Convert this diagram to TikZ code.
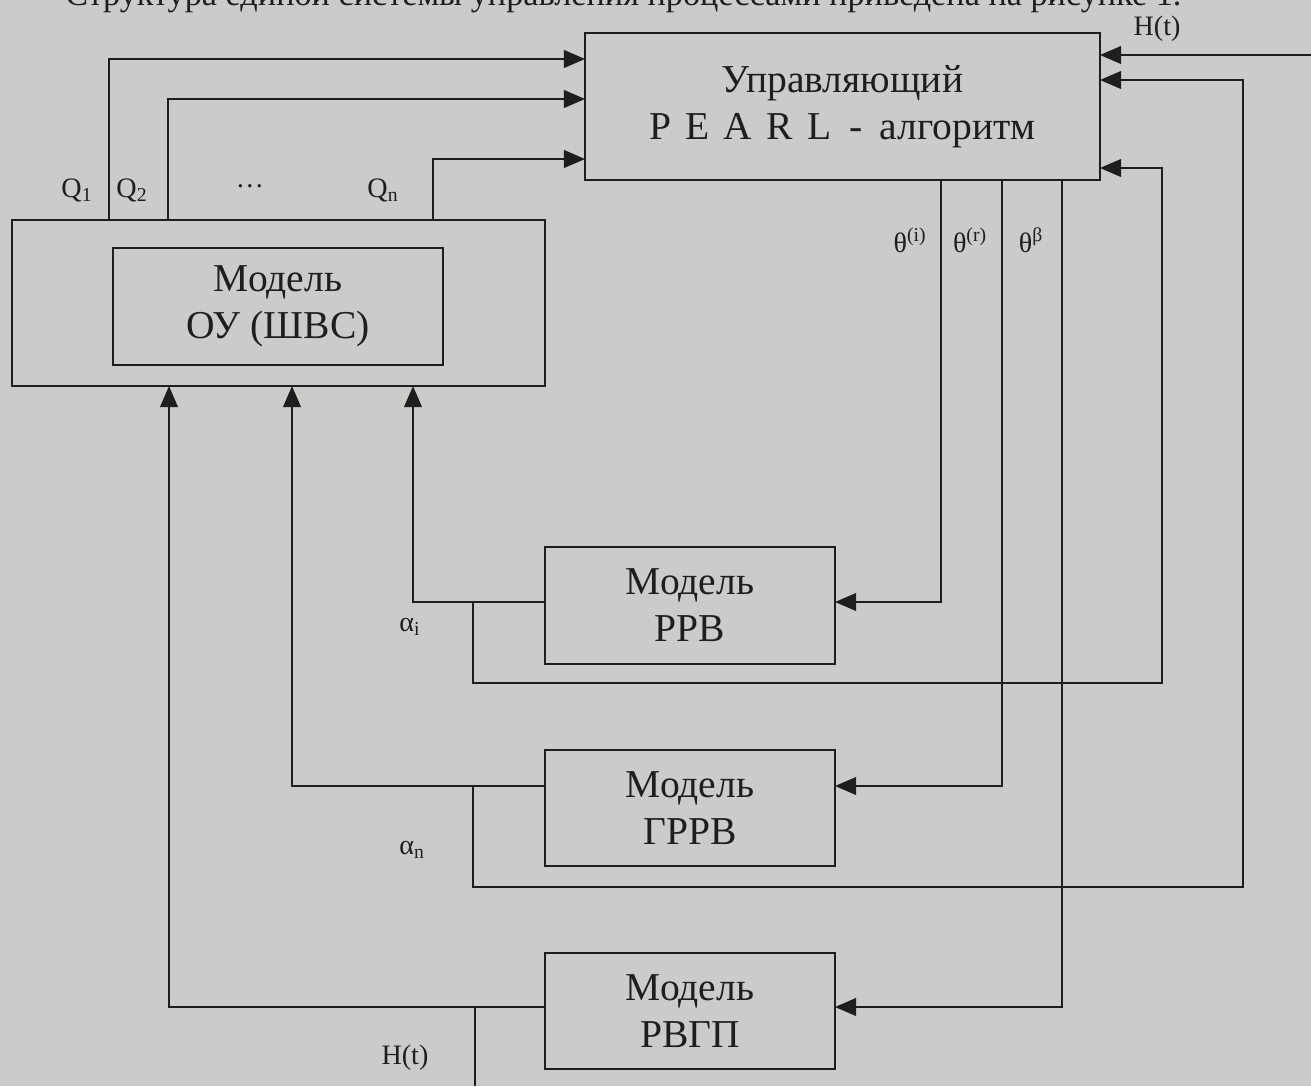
\documentclass[tikz,border=0pt]{standalone}
\usepackage{fontspec}
\setmainfont{Liberation Serif}
\usetikzlibrary{arrows.meta}
\definecolor{paper}{RGB}{203,203,201}
\definecolor{ink}{RGB}{30,30,30}
\begin{document}
\begin{tikzpicture}[x=0.02cm,y=-0.02cm,
  box/.style={draw=ink,line width=1.3pt,rectangle,inner sep=0pt,outer sep=0pt,align=center,
    font=\fontsize{22.5}{26.7}\selectfont,text=ink},
  wire/.style={draw=ink,line width=1.2pt},
  arr/.style={wire,-{Triangle[length=12pt,width=10pt]}},
  lbl/.style={text=ink,font=\fontsize{16}{18}\selectfont,inner sep=0pt}]
\path[use as bounding box,fill=paper] (0,0) rectangle (1311,1086);
\clip (0,0) rectangle (1311,1086);

% heading line (cut off at the top)
\node[anchor=base west,inner sep=0pt,text=ink,font=\fontsize{19.5}{20}\selectfont] (head) at (65,5)
  {Структура единой системы управления процессами приведена на рисунке 1.};

% boxes
\node[box,minimum width=10.3cm,minimum height=2.94cm] (pearl) at (842.5,106.5)
  {Управляющий\\P\hspace{.36em}E\hspace{.36em}A\hspace{.36em}R\hspace{.36em}L\hspace{.45em}-\hspace{.45em}алгоритм};
\node[box,minimum width=10.66cm,minimum height=3.32cm] (ou) at (278.5,303) {};
\node[box,minimum width=6.6cm,minimum height=2.34cm] (ouin) at (278,306.5) {Модель\\ОУ (ШВС)};
\node[box,minimum width=5.8cm,minimum height=2.34cm] (rrv) at (690,605.5) {Модель\\РРВ};
\node[box,minimum width=5.8cm,minimum height=2.32cm] (grrv) at (690,808) {Модель\\ГРРВ};
\node[box,minimum width=5.8cm,minimum height=2.32cm] (rvgp) at (690,1011) {Модель\\РВГП};

% helper coordinates
\coordinate (xQa) at (109,0);
\coordinate (xQb) at (168,0);
\coordinate (xQn) at (433,0);
\coordinate (yQa) at (0,59);
\coordinate (yQb) at (0,99);
\coordinate (yQn) at (0,159);
\coordinate (xTi) at (941,0);
\coordinate (xTr) at (1002,0);
\coordinate (xTb) at (1062,0);
\coordinate (yR) at (0,602);
\coordinate (yG) at (0,786);
\coordinate (yV) at (0,1007);
\coordinate (xA) at (413,0);
\coordinate (xB) at (292,0);
\coordinate (xC) at (169,0);
\coordinate (xJ) at (473,0);
\coordinate (xJv) at (475,0);
\coordinate (yRl) at (0,683);
\coordinate (yGl) at (0,887);
\coordinate (xRl) at (1162,0);
\coordinate (xGl) at (1243,0);
\coordinate (yPr) at (0,168);
\coordinate (yPg) at (0,80);
\coordinate (htop) at (1311,55);
\coordinate (hbot) at (475,1086);

% Q outputs of the object model to the controller
\draw[arr] (ou.north -| xQa) |- (pearl.west |- yQa);
\draw[arr] (ou.north -| xQb) |- (pearl.west |- yQb);
\draw[arr] (ou.north -| xQn) |- (pearl.west |- yQn);

% H(t) into controller
\draw[arr] (htop) -- (pearl.east |- htop);

% theta outputs of the controller
\draw[arr] (pearl.south -| xTi) |- (rrv.east |- yR);
\draw[arr] (pearl.south -| xTr) |- (grrv.east |- yG);
\draw[arr] (pearl.south -| xTb) |- (rvgp.east |- yV);

% model outputs back to the object model and controller
\draw[arr] (rrv.west |- yR) -| (ou.south -| xA);
\draw[arr] (xJ |- yR) |- (xRl |- yRl) |- (pearl.east |- yPr);
\draw[arr] (grrv.west |- yG) -| (ou.south -| xB);
\draw[arr] (xJ |- yG) |- (xGl |- yGl) |- (pearl.east |- yPg);
\draw[arr] (rvgp.west |- yV) -| (ou.south -| xC);
\draw[wire] (xJv |- yV) -- (hbot);

% labels
\node[lbl] (lq1) at (77,190) {Q\textsubscript{1}};
\node[lbl] (lq2) at (132,190) {Q\textsubscript{2}};
\node[lbl] (ldots) at (250,186) {\dots};
\node[lbl] (lqn) at (383,190) {Q\textsubscript{n}};
\node[lbl] (lti) at (910,240) {θ\textsuperscript{(i)}};
\node[lbl] (ltr) at (970,240) {θ\textsuperscript{(r)}};
\node[lbl] (ltb) at (1031,240) {θ\textsuperscript{β}};
\node[lbl] (lai) at (410,627) {α\textsubscript{i}};
\node[lbl] (lan) at (412,850) {α\textsubscript{n}};
\node[lbl] (lht) at (1157,29) {H(t)};
\node[lbl] (lhb) at (405,1058) {H(t)};
\end{tikzpicture}
\end{document}
